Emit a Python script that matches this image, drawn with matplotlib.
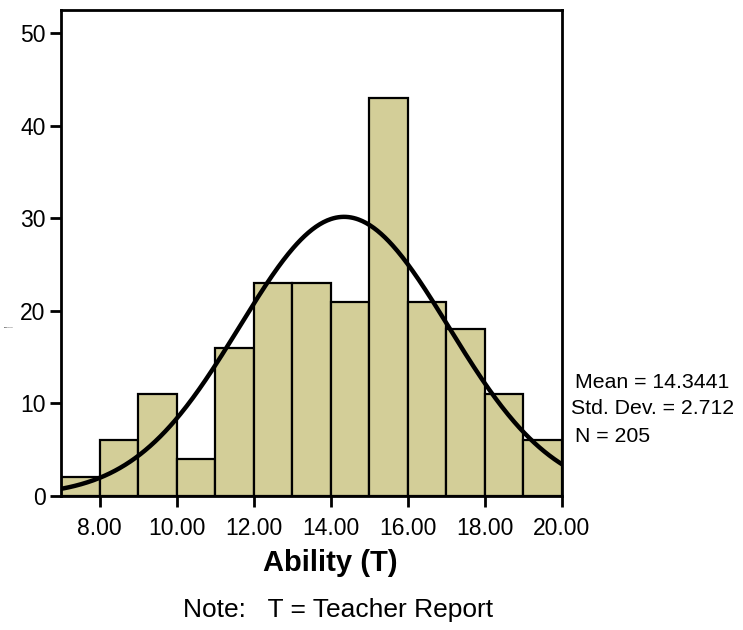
import numpy as np
import matplotlib.pyplot as plt

plt.rcParams['font.family'] = ['Liberation Sans', 'DejaVu Sans']

# Histogram data (bin width 1, from 7 to 20)
bin_edges = np.arange(7, 21, 1)
counts = [2, 6, 11, 4, 16, 23, 23, 21, 43, 21, 18, 11, 6]
mean = 14.3441
std = 2.712
n = 205

fig = plt.figure(figsize=(7.43, 6.30), dpi=100)
ax = fig.add_axes([61 / 743, 134 / 630, 501 / 743, 486 / 630])

ax.bar(bin_edges[:-1], counts, width=1, align='edge', color='#d3ce98',
       edgecolor='black', linewidth=1.6, zorder=2)

# Normal curve scaled to counts
xs = np.linspace(7, 20, 400)
ys = n * 1.0 / (std * np.sqrt(2 * np.pi)) * np.exp(-0.5 * ((xs - mean) / std) ** 2)
ax.plot(xs, ys, color='black', linewidth=3.2, zorder=3, solid_capstyle='round')

ax.set_xlim(7, 20)
ax.set_ylim(0, 52.5)
ax.set_xticks([8, 10, 12, 14, 16, 18, 20])
ax.set_xticklabels(['8.00', '10.00', '12.00', '14.00', '16.00', '18.00', '20.00'])
ax.set_yticks([0, 10, 20, 30, 40, 50])
ax.tick_params(axis='both', direction='out', length=8, width=2, labelsize=16.5, pad=3)
ax.tick_params(axis='x', pad=7)
for s in ax.spines.values():
    s.set_linewidth(2)

# axis titles
fig.text(330 / 743, 1 - 563 / 630, 'Ability (T)', fontsize=21, fontweight='bold',
         va='center', ha='center')
fig.text(4 / 743, 1 - 327 / 630, 'Frequency', fontsize=1.5, va='center', ha='left')

fig.text(575 / 743, 1 - 382 / 630, 'Mean = 14.3441', fontsize=15.3, va='center', ha='left')
fig.text(571 / 743, 1 - 409 / 630, 'Std. Dev. = 2.712', fontsize=15.3, va='center', ha='left')
fig.text(575 / 743, 1 - 437 / 630, 'N = 205', fontsize=15.3, va='center', ha='left')

fig.text(338 / 743, 1 - 610 / 630, 'Note:   T = Teacher Report', fontsize=19,
         va='center', ha='center')

fig.savefig('out.png', dpi=100)
